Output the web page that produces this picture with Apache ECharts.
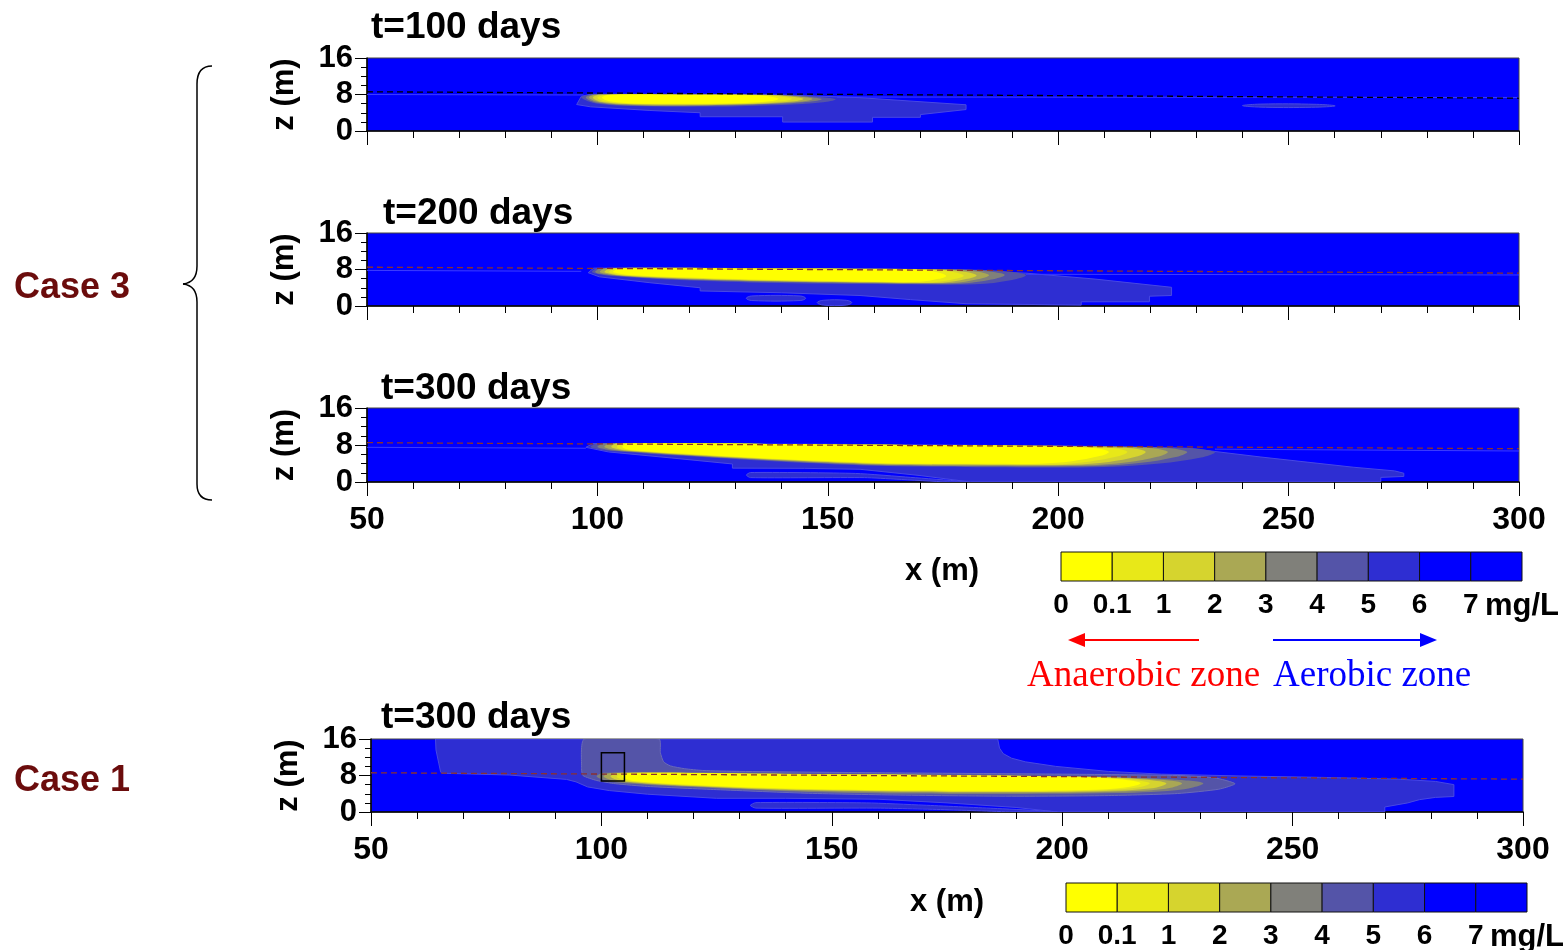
<!DOCTYPE html>
<html>
<head>
<meta charset="utf-8">
<script src="https://cdn.jsdelivr.net/npm/echarts@6/dist/echarts.min.js"></script>
<style>
html, body { margin: 0; padding: 0; background: #fff; }
#chart { width: 1566px; height: 950px; }
</style>
</head>
<body>
<div id="chart"></div>
<script>
// DO (mg/L) band colours, low -> high: 0-0.1, 0.1-1, 1-2, 2-3, 3-4, 4-5, 5-6, 6-7, >7
const bandColors = ['#ffff00', '#e8e818', '#d6d42e', '#aaa854', '#80807a', '#5454a8', '#2e2ed2', '#0000ff', '#0000ff']
const bandLabels = ['0', '0.1', '1', '2', '3', '4', '5', '6', '7', 'mg/L']
const xTicks = [50, 100, 150, 200, 250, 300]
const panelTitles = ['t=100 days', 't=200 days', 't=300 days', 't=300 days']

// contour outlines, [x (m), z (m)]
// case 3, t=100
const p1_l6 = [[96.5, 7.6], [98.5, 8.05], [120, 8.05], [140, 7.9], [152, 7.5], [157, 7.3], [180, 5.75], [180, 4.7], [175, 4.15], [170.1, 3.6], [170.1, 3.0], [159.7, 3.0], [159.7, 1.96], [140.2, 1.96], [140.2, 3.13], [122.3, 3.13], [122.3, 4.0], [111.4, 4.5], [98.5, 5.3], [95.5, 5.8]]
const p1_lens = [[240, 5.55], [244, 5.9], [256, 5.85], [260.1, 5.5], [255, 5.2], [245, 5.2]]
const p1_l5 = [[96.5, 7.3], [98, 7.95], [110, 8.05], [130, 8.0], [143, 7.8], [150, 7.3], [151.7, 6.9], [149, 6.3], [140, 5.7], [125, 5.35], [110, 5.45], [100, 6.0]]
const p1_l4 = [[97.5, 7.3], [99, 7.95], [120, 8.0], [140, 7.85], [146.5, 7.4], [148.7, 6.95], [146, 6.4], [138, 5.9], [122, 5.5], [108, 5.6], [100, 6.2]]
const p1_l3 = [[98.2, 7.3], [99.5, 7.95], [120, 7.98], [139, 7.85], [145, 7.4], [146.7, 7.0], [144.5, 6.45], [137, 6.0], [122, 5.65], [108, 5.72], [100.5, 6.3]]
const p1_l2 = [[99, 7.3], [100.5, 7.92], [120, 7.95], [138, 7.83], [143.2, 7.4], [144.7, 7.0], [142.8, 6.5], [136, 6.05], [122, 5.78], [108, 5.84], [101, 6.35]]
const p1_l1 = [[100, 7.3], [101.5, 7.9], [120, 7.92], [137, 7.8], [141, 7.4], [142.2, 7.0], [140.5, 6.55], [134, 6.1], [122, 5.88], [108, 5.94], [102, 6.4]]
const p1_l0 = [[101, 7.3], [102.5, 7.88], [120, 7.9], [135, 7.78], [138.3, 7.4], [139.3, 7.0], [137.8, 6.55], [132, 6.15], [122, 6.0], [108, 6.05], [103, 6.45]]

// case 3, t=200
const p2_l6 = [[98, 7.3], [99.2, 8.3], [130, 8.2], [170, 8.0], [193, 7.2], [208, 5.9], [224.6, 4.1], [224.6, 2.3], [219.8, 2.15], [219.8, 0.93], [205, 0.93], [205, 0.2], [180, 0.5], [168, 1.4], [157, 2.3], [140, 2.9], [122.3, 3.3], [122.3, 4.0], [111.4, 5.1], [100.4, 6.4]]
const p2_lensA = [[132.3, 1.7], [133.5, 2.2], [144, 2.2], [145.2, 1.7], [144, 1.2], [133.5, 1.2]]
const p2_lensB = [[147.7, 0.75], [149, 1.25], [154, 1.25], [155.2, 0.75], [154, 0.2], [149, 0.2]]
const p2_l5 = [[98.8, 7.5], [100, 8.3], [140, 8.25], [180, 8.0], [188.5, 7.6], [193, 6.8], [190, 5.7], [182, 4.75], [160, 4.8], [136, 5.1], [115, 5.8], [104, 6.5], [100, 7.0]]
const p2_l4 = [[99.5, 7.5], [101, 8.28], [140, 8.22], [178, 7.98], [185, 7.55], [188.4, 6.8], [185.5, 5.8], [179, 4.95], [160, 5.0], [136, 5.35], [115, 6.0], [104.5, 6.6], [100.5, 7.05]]
const p2_l3 = [[100.5, 7.5], [102, 8.26], [140, 8.2], [176, 7.97], [182.5, 7.5], [185, 6.75], [182.5, 5.85], [177, 5.05], [160, 5.1], [136, 5.45], [115, 6.1], [105, 6.65], [101.5, 7.1]]
const p2_l2 = [[101.5, 7.5], [103, 8.24], [140, 8.18], [174, 7.96], [180, 7.45], [182.3, 6.7], [180, 5.9], [175, 5.12], [160, 5.18], [136, 5.55], [115, 6.2], [105.5, 6.7], [102.5, 7.12]]
const p2_l1 = [[102.5, 7.5], [104, 8.22], [140, 8.16], [172, 7.95], [177.5, 7.4], [179.5, 6.65], [177.5, 5.9], [173, 5.2], [160, 5.25], [136, 5.65], [115, 6.3], [106, 6.75], [103.3, 7.15]]
const p2_l0 = [[103.4, 7.5], [105, 8.2], [140, 8.14], [170, 7.93], [174, 7.35], [175.7, 6.6], [174, 5.95], [170, 5.3], [160, 5.33], [136, 5.75], [115, 6.4], [107, 6.8], [104.2, 7.2]]

// case 3, t=300
const p3_l6 = [[97.5, 7.5], [99, 8.3], [150, 8.15], [200, 7.8], [228, 7.3], [234, 6.6], [244, 5.4], [254, 4.3], [264, 3.2], [273, 2.4], [275, 1.9], [275, 1.2], [270, 1.0], [270, 0], [181, 0], [170, 1.4], [157, 2.75], [145, 2.95], [129.3, 3.0], [129.3, 3.9], [116, 5.2], [102.4, 6.5]]
const p3_finger = [[132.3, 1.5], [133.2, 2.05], [156, 1.85], [168, 1.0], [179, 0.15], [180, 0], [176, 0], [165, 0.6], [158, 0.95], [133.2, 0.95]]
const p3_l5 = [[98.5, 7.6], [100, 8.35], [150, 8.15], [200, 7.85], [226, 7.4], [232, 7.0], [234, 6.4], [231, 5.3], [222, 4.0], [210, 3.25], [185, 3.2], [165, 3.4], [150, 3.9], [126, 5.2], [106, 6.5], [100.5, 7.0]]
const p3_l4 = [[100, 7.6], [101.5, 8.33], [150, 8.13], [200, 7.83], [222, 7.4], [226.5, 7.0], [228, 6.45], [225.5, 5.4], [218, 4.15], [208, 3.45], [185, 3.4], [165, 3.55], [150, 4.05], [126, 5.3], [106.5, 6.58], [101.8, 7.05]]
const p3_l3 = [[101.5, 7.6], [103, 8.31], [150, 8.11], [198, 7.82], [218.5, 7.4], [222.5, 7.0], [223.8, 6.45], [221.5, 5.45], [215, 4.25], [206, 3.6], [185, 3.55], [165, 3.7], [150, 4.2], [126, 5.42], [107, 6.64], [103, 7.1]]
const p3_l2 = [[103, 7.6], [104.3, 8.3], [150, 8.1], [196, 7.81], [214, 7.4], [218, 7.0], [219, 6.45], [217, 5.5], [211, 4.35], [203, 3.75], [185, 3.7], [165, 3.82], [150, 4.32], [126, 5.52], [107.5, 6.7], [104.2, 7.12]]
const p3_l1 = [[104.2, 7.6], [105.4, 8.3], [150, 8.1], [194, 7.8], [210.5, 7.4], [214, 7.0], [215, 6.45], [213, 5.55], [207, 4.45], [200, 3.85], [185, 3.82], [165, 3.92], [150, 4.42], [126, 5.62], [108, 6.75], [105, 7.15]]
const p3_l0 = [[105.4, 7.6], [106.5, 8.3], [150, 8.1], [192, 7.8], [206.5, 7.4], [210, 7.0], [211, 6.45], [209, 5.6], [203, 4.5], [196, 3.97], [185, 3.95], [165, 4.02], [150, 4.52], [126, 5.7], [108.5, 6.8], [106, 7.2]]

// case 1, t=300
const p4_l6 = [[64, 16], [186, 16], [186.4, 14], [187.2, 12.8], [189, 11.8], [192, 11.0], [198.6, 10.0], [210, 8.9], [221.5, 8.3], [238.6, 7.9], [255.8, 7.6], [272.9, 7.2], [281, 6.7], [285, 6.0], [285, 3.4], [281, 3.2], [277.5, 2.7], [275, 2.0], [270, 1.1], [270, 0], [199, 0], [190, 1.0], [175, 2.0], [160, 2.8], [140, 3.0], [125, 3.0], [110, 3.9], [101.7, 4.7], [97, 5.5], [94.5, 6.6], [92.4, 7.15], [80, 8.1], [65.4, 8.5], [65.1, 8.8], [64.7, 10.7], [64.1, 13.6]]
const p4_finger = [[132.3, 1.45], [133.5, 2.05], [157.5, 2.0], [170, 1.5], [185, 0.8], [195, 0.3], [199, 0], [190, 0], [175, 0.5], [160, 0.85], [133.5, 0.85]]
const p4_l5 = [[96.3, 16], [112.5, 16], [112.8, 13], [113.5, 11], [115, 10.1], [118, 9.5], [122, 9.1], [130, 8.9], [160, 8.6], [200, 8.3], [225, 8.0], [233, 7.5], [237.5, 6.2], [234, 5.0], [225, 4.05], [210, 3.6], [190, 3.45], [165, 3.7], [145, 4.1], [125, 4.9], [110, 5.6], [103, 6.2], [99, 6.9], [96, 8.0], [95.7, 9.5]]
const p4_l4 = [[99, 7.7], [100.5, 8.58], [140, 8.38], [180, 8.08], [209, 7.7], [224, 7.1], [230.6, 6.3], [226.5, 5.0], [212, 4.15], [185, 3.95], [165, 4.05], [145, 4.4], [125, 5.2], [103, 6.5]]
const p4_l3 = [[100.5, 7.7], [102, 8.56], [140, 8.36], [180, 8.06], [208, 7.68], [220.5, 7.1], [226, 6.3], [222.5, 5.1], [210, 4.4], [185, 4.22], [165, 4.32], [145, 4.65], [125, 5.38], [104, 6.62]]
const p4_l2 = [[102, 7.7], [103.5, 8.54], [140, 8.34], [180, 8.04], [207, 7.65], [217.5, 7.1], [222.6, 6.3], [219.5, 5.2], [208, 4.55], [185, 4.38], [165, 4.48], [145, 4.8], [125, 5.5], [105, 6.7]]
const p4_l1 = [[103.3, 7.7], [104.8, 8.52], [140, 8.32], [180, 8.02], [206, 7.62], [214.5, 7.1], [219, 6.3], [216, 5.3], [206, 4.68], [185, 4.52], [165, 4.62], [145, 4.92], [125, 5.6], [106, 6.75]]
const p4_l0 = [[104.5, 7.7], [106, 8.5], [140, 8.3], [180, 8.0], [205, 7.6], [213, 7.1], [217, 6.3], [214, 5.4], [205, 4.8], [185, 4.65], [165, 4.75], [145, 5.05], [125, 5.7], [107, 6.8]]
const p4_box = [[100, 6.8], [105, 13]]

// water table (dashed) and thin ambient lines
const dash1 = [[50, 8.6], [300, 7.2]]
const dash2 = [[50, 8.5], [300, 7.2]]
const dash3 = [[50, 8.5], [300, 7.2]]
const dash4 = [[50, 8.6], [300, 7.2]]
const thin1 = [[[50, 8.0], [97, 7.9]], [[152, 7.45], [300, 7.35]]]
const thin2 = [[[50, 7.8], [96.5, 7.6]], [[193, 6.95], [300, 6.8]]]
const thin3 = [[[50, 7.5], [97.5, 7.3]], [[234, 7.1], [300, 6.7]]]

const FONT = '"Liberation Sans", Arial, sans-serif'
const SERIF = '"Liberation Serif", "Times New Roman", serif'

function lay(pts, band, smooth, stroke) {
  return { pts: pts, color: bandColors[band], smooth: smooth, stroke: stroke }
}

const panels = [
  {
    grid: { left: 367, top: 58, width: 1152, height: 73 },
    layers: [lay(p1_l6, 6, 0, '#4848e4'), lay(p1_lens, 6, 0.4, '#4848e4'), lay(p1_l5, 5, 0.35), lay(p1_l4, 4, 0.35), lay(p1_l3, 3, 0.35), lay(p1_l2, 2, 0.35), lay(p1_l1, 1, 0.35), lay(p1_l0, 0, 0.35)],
    dash: dash1, dashColor: '#000', thin: thin1
  },
  {
    grid: { left: 367, top: 233, width: 1152, height: 73 },
    layers: [lay(p2_l6, 6, 0, '#4848e4'), lay(p2_lensA, 6, 0.4, '#4848e4'), lay(p2_lensB, 6, 0.4, '#4848e4'), lay(p2_l5, 5, 0.35), lay(p2_l4, 4, 0.35), lay(p2_l3, 3, 0.35), lay(p2_l2, 2, 0.35), lay(p2_l1, 1, 0.35), lay(p2_l0, 0, 0.35)],
    dash: dash2, dashColor: '#8a3030', thin: thin2
  },
  {
    grid: { left: 367, top: 408, width: 1152, height: 74 },
    layers: [lay(p3_l6, 6, 0, '#4848e4'), lay(p3_finger, 6, 0.2, '#4848e4'), lay(p3_l5, 5, 0.35), lay(p3_l4, 4, 0.35), lay(p3_l3, 3, 0.35), lay(p3_l2, 2, 0.35), lay(p3_l1, 1, 0.35), lay(p3_l0, 0, 0.35)],
    dash: dash3, dashColor: '#8a3030', thin: thin3
  },
  {
    grid: { left: 371, top: 739, width: 1152, height: 73 },
    layers: [lay(p4_l6, 6, 0, '#4848e4'), lay(p4_finger, 6, 0.2, '#4848e4'), lay(p4_l5, 5, 0.2, '#6a6ab8'), lay(p4_l4, 4, 0.35), lay(p4_l3, 3, 0.35), lay(p4_l2, 2, 0.35), lay(p4_l1, 1, 0.35), lay(p4_l0, 0, 0.35)],
    dash: dash4, dashColor: '#8a3030', thin: []
  }
]

const grids = []
const xAxes = []
const yAxes = []
const series = []
const titles = []
const titlePos = [[371, 9], [383, 195], [381, 370], [381, 699]]

panels.forEach(function (p, g) {
  grids.push(Object.assign({ show: true, backgroundColor: bandColors[8], borderColor: '#444', borderWidth: 1, outerBoundsMode: 'none' }, p.grid))
  titles.push({ text: panelTitles[g], left: titlePos[g][0], top: titlePos[g][1], padding: 0,
    textStyle: { fontFamily: FONT, fontSize: 37, fontWeight: 'bold', color: '#000' } })

  // minor ticks
  xAxes.push({ gridIndex: g, type: 'value', min: 50, max: 300, interval: 10, position: 'bottom',
    axisLine: { show: false }, axisTick: { length: 7, lineStyle: { color: '#000', width: 1 } },
    axisLabel: { show: false }, splitLine: { show: false } })
  xAxes.push({ gridIndex: g, type: 'value', min: xTicks[0], max: xTicks[xTicks.length - 1], interval: 50, position: 'bottom',
    axisLine: { lineStyle: { color: '#000', width: 1.5 } }, axisTick: { length: 14, lineStyle: { color: '#000', width: 1 } },
    axisLabel: { show: g >= 2, margin: 22, fontFamily: FONT, fontSize: 32, fontWeight: 'bold', color: '#000', showMinLabel: true, showMaxLabel: true },
    splitLine: { show: false } })
  yAxes.push({ gridIndex: g, type: 'value', min: 0, max: 16, interval: 2, position: 'left',
    axisLine: { show: false }, axisTick: { length: 6, lineStyle: { color: '#000', width: 1 } },
    axisLabel: { show: false }, splitLine: { show: false } })
  yAxes.push({ gridIndex: g, type: 'value', min: 0, max: 16, interval: 8, position: 'left',
    axisLine: { lineStyle: { color: '#000', width: 1.5 } }, axisTick: { length: 12, lineStyle: { color: '#000', width: 1 } },
    axisLabel: { margin: 14, fontFamily: FONT, fontSize: 31, fontWeight: 'bold', color: '#000', showMinLabel: true, showMaxLabel: true },
    splitLine: { show: false },
    name: 'z (m)', nameLocation: 'middle', nameRotate: 90, nameGap: 67,
    nameTextStyle: { fontFamily: FONT, fontSize: 31, fontWeight: 'bold', color: '#000' } })

  const layers = p.layers
  series.push({
    type: 'custom', xAxisIndex: 2 * g + 1, yAxisIndex: 2 * g + 1, clip: true, silent: true,
    data: layers.map(function (l) { return l.pts[0] }),
    renderItem: function (params, api) {
      const l = layers[params.dataIndex]
      return {
        type: 'polygon', z2: params.dataIndex,
        shape: { points: l.pts.map(function (pt) { return api.coord(pt) }), smooth: l.smooth },
        style: { fill: l.color, stroke: l.stroke || null, lineWidth: l.stroke ? 1 : 0 }
      }
    }
  })
  p.thin.forEach(function (seg) {
    series.push({ type: 'line', xAxisIndex: 2 * g + 1, yAxisIndex: 2 * g + 1, data: seg, symbol: 'none', silent: true,
      lineStyle: { color: '#3c3cff', width: 1 } })
  })
  series.push({ type: 'line', xAxisIndex: 2 * g + 1, yAxisIndex: 2 * g + 1, data: p.dash, symbol: 'none', silent: true, z: 5,
    lineStyle: { color: p.dashColor, width: 1.3, type: [6, 4] } })
})

// source box in case 1
series.push({
  type: 'custom', xAxisIndex: 7, yAxisIndex: 7, silent: true, z: 6,
  data: [p4_box[0]],
  renderItem: function (params, api) {
    const a = api.coord(p4_box[0])
    const b = api.coord(p4_box[1])
    return { type: 'rect', shape: { x: a[0], y: b[1], width: b[0] - a[0], height: a[1] - b[1] },
      style: { fill: null, stroke: '#000', lineWidth: 1.5 } }
  }
})

// colour bars
const barGrids = [{ left: 1061, top: 552, width: 461, height: 29 }, { left: 1066, top: 883, width: 461, height: 29 }]
barGrids.forEach(function (bg, k) {
  const gi = 4 + k
  grids.push(Object.assign({ show: false, outerBoundsMode: 'none' }, bg))
  xAxes.push({ gridIndex: gi, type: 'value', min: 0, max: 9, interval: 1,
    axisLine: { show: false }, axisTick: { show: false }, splitLine: { show: false },
    axisLabel: { margin: 10, fontFamily: FONT, fontSize: 28, fontWeight: 'bold', color: '#000', showMinLabel: true, showMaxLabel: true,
      formatter: function (v) { return v === 9 ? '{u|' + bandLabels[9] + '}' : bandLabels[v] },
      rich: { u: { fontFamily: FONT, fontSize: 31, fontWeight: 'bold', color: '#000', padding: [0, 0, 6, 0] } } } })
  yAxes.push({ gridIndex: gi, type: 'value', min: 0, max: 1, show: false })
  series.push({
    type: 'custom', xAxisIndex: 8 + k, yAxisIndex: 8 + k, silent: true,
    data: bandColors.map(function (c, i) { return [i, 0] }),
    renderItem: function (params, api) {
      const i = params.dataIndex
      const a = api.coord([i, 1])
      const b = api.coord([i + 1, 0])
      return { type: 'rect', shape: { x: a[0], y: a[1], width: b[0] - a[0], height: b[1] - a[1] },
        style: { fill: bandColors[i], stroke: '#111', lineWidth: 1 } }
    }
  })
})

// brace next to case 3
const braceStyle = { fill: null, stroke: '#000', lineWidth: 1.5 }
const brace = [
  { type: 'bezierCurve', shape: { x1: 212, y1: 66, cpx1: 202, cpy1: 66, cpx2: 197, cpy2: 72, x2: 197, y2: 84 }, style: braceStyle },
  { type: 'line', shape: { x1: 197, y1: 84, x2: 197, y2: 266 }, style: braceStyle },
  { type: 'bezierCurve', shape: { x1: 197, y1: 266, cpx1: 197, cpy1: 277, cpx2: 192, cpy2: 283, x2: 183, y2: 284 }, style: braceStyle },
  { type: 'bezierCurve', shape: { x1: 183, y1: 284, cpx1: 192, cpy1: 285, cpx2: 197, cpy2: 291, x2: 197, y2: 302 }, style: braceStyle },
  { type: 'line', shape: { x1: 197, y1: 302, x2: 197, y2: 484 }, style: braceStyle },
  { type: 'bezierCurve', shape: { x1: 197, y1: 484, cpx1: 197, cpy1: 494, cpx2: 202, cpy2: 500, x2: 212, y2: 500 }, style: braceStyle }
]

const chart = echarts.init(document.getElementById('chart'))
chart.setOption({
  animation: false,
  backgroundColor: '#fff',
  title: titles,
  grid: grids,
  xAxis: xAxes,
  yAxis: yAxes,
  series: series,
  graphic: brace.concat([
    { type: 'text', x: 14, y: 288, style: { text: 'Case 3', font: 'bold 36px ' + FONT, fill: '#6b0c0c', verticalAlign: 'middle' } },
    { type: 'text', x: 14, y: 781, style: { text: 'Case 1', font: 'bold 36px ' + FONT, fill: '#6b0c0c', verticalAlign: 'middle' } },
    { type: 'text', x: 905, y: 571, style: { text: 'x (m)', font: 'bold 31px ' + FONT, fill: '#000', verticalAlign: 'middle' } },
    { type: 'text', x: 910, y: 902, style: { text: 'x (m)', font: 'bold 31px ' + FONT, fill: '#000', verticalAlign: 'middle' } },
    { type: 'line', shape: { x1: 1199, y1: 640, x2: 1082, y2: 640 }, style: { stroke: '#ff0000', lineWidth: 2 } },
    { type: 'polygon', shape: { points: [[1068, 640], [1085, 633], [1085, 647]] }, style: { fill: '#ff0000' } },
    { type: 'line', shape: { x1: 1273, y1: 640, x2: 1423, y2: 640 }, style: { stroke: '#0000ff', lineWidth: 2 } },
    { type: 'polygon', shape: { points: [[1437, 640], [1420, 633], [1420, 647]] }, style: { fill: '#0000ff' } },
    { type: 'text', x: 1027, y: 676, style: { text: 'Anaerobic zone', font: '37px ' + SERIF, fill: '#ff0000', verticalAlign: 'middle' } },
    { type: 'text', x: 1273, y: 676, style: { text: 'Aerobic zone', font: '37px ' + SERIF, fill: '#0000ff', verticalAlign: 'middle' } }
  ])
})
</script>
</body>
</html>
